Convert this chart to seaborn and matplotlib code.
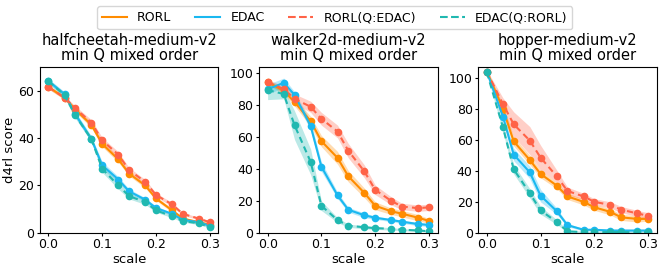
import numpy as np
import pandas as pd
import matplotlib
matplotlib.use("Agg")
import matplotlib.pyplot as plt
from matplotlib.lines import Line2D
import seaborn as sns

# ── Data ──────────────────────────────────────────────────────────────────────

scales = [0.0, 0.03, 0.05, 0.08, 0.1, 0.13, 0.15, 0.18, 0.2, 0.23, 0.25, 0.28, 0.3]
methods = ["RORL", "EDAC", "RORL(Q:EDAC)", "EDAC(Q:RORL)"]
envs = ["halfcheetah-medium-v2", "walker2d-medium-v2", "hopper-medium-v2"]

hc_rorl      = [61.5, 57, 52, 45.5, 37.5, 31, 25, 20, 14.5, 9.5, 6, 4.5, 3.5]
hc_edac      = [64, 58.5, 50, 39.5, 28.5, 22.5, 17.5, 14, 10.5, 8, 5.5, 4.5, 3]
hc_rorl_qe   = [61.5, 57, 52.5, 46.5, 39, 33, 26.5, 21.5, 16, 12, 8, 6, 4.5]
hc_edac_qr   = [64, 58, 49.5, 39.5, 27, 20, 15.5, 13, 9.5, 7, 5, 4, 2.5]

wk_rorl      = [94.5, 89, 82, 70, 57.5, 47, 35.5, 25, 17, 13.5, 12, 9.5, 7.5]
wk_edac      = [90, 94, 86.5, 67, 41.5, 23.5, 14.5, 11, 9.5, 8, 7, 5.5, 5]
wk_rorl_qe   = [94.5, 90, 84, 79, 71.5, 63.5, 51.5, 38.5, 27, 20, 16.5, 15.5, 16]
wk_edac_qr   = [89.5, 87, 67.5, 44.5, 17, 8, 4.5, 3.5, 3, 2.5, 2, 1.5, 1]

hp_rorl      = [104, 80, 59, 47, 38, 30.5, 23.5, 20, 16.5, 13.5, 10, 9, 9]
hp_edac      = [104, 75, 50.5, 39, 24, 14, 5, 2, 2, 1.5, 1.5, 1.5, 1.5]
hp_rorl_qe   = [104, 83, 70, 59.5, 48.5, 36.5, 27, 23.5, 20, 18, 15, 12.5, 11]
hp_edac_qr   = [103.5, 68, 41, 25.5, 14.5, 7, 1, 0.5, 0.5, 0.5, 0.5, 0.5, 0.5]

# half-width of the shaded bands
hc_rorl_sd    = [0.8, 0.8, 1.0, 1.2, 1.2, 1.2, 1.0, 1.0, 0.8, 0.8, 0.6, 0.5, 0.5]
hc_edac_sd    = [1.0, 1.0, 1.2, 1.2, 1.5, 1.2, 1.0, 0.8, 0.8, 0.6, 0.5, 0.5, 0.5]
hc_rorl_qe_sd = [0.8, 0.8, 1.0, 1.2, 1.2, 1.2, 1.0, 1.0, 0.8, 0.8, 0.6, 0.5, 0.5]
hc_edac_qr_sd = [1.0, 1.0, 1.2, 1.2, 1.5, 1.5, 1.2, 1.0, 0.8, 0.6, 0.5, 0.5, 0.5]

wk_rorl_sd    = [1.5, 2.0, 2.5, 3.0, 3.5, 4.0, 3.5, 3.0, 2.5, 2.0, 2.0, 2.0, 1.5]
wk_edac_sd    = [3.0, 3.0, 2.0, 3.0, 3.0, 2.0, 1.5, 1.5, 1.0, 1.0, 1.0, 1.0, 1.0]
wk_rorl_qe_sd = [1.5, 2.0, 3.0, 3.5, 4.0, 4.0, 4.5, 4.0, 3.0, 2.5, 2.0, 2.0, 2.0]
wk_edac_qr_sd = [6.0, 3.0, 9.0, 8.0, 3.0, 1.5, 1.0, 1.0, 0.8, 0.8, 0.6, 0.6, 0.5]

hp_rorl_sd    = [1.0, 3.0, 3.0, 3.0, 2.5, 2.0, 2.0, 2.0, 2.0, 2.0, 2.0, 2.0, 1.5]
hp_edac_sd    = [1.0, 3.0, 4.0, 4.0, 4.0, 2.0, 1.0, 0.8, 0.8, 0.8, 0.8, 0.8, 0.8]
hp_rorl_qe_sd = [1.0, 4.0, 8.0, 9.0, 8.0, 4.0, 2.5, 2.0, 2.0, 2.0, 2.0, 2.0, 2.0]
hp_edac_qr_sd = [1.0, 3.0, 3.0, 3.0, 2.5, 1.5, 0.8, 0.5, 0.5, 0.5, 0.5, 0.5, 0.5]

means = {
    envs[0]: [hc_rorl, hc_edac, hc_rorl_qe, hc_edac_qr],
    envs[1]: [wk_rorl, wk_edac, wk_rorl_qe, wk_edac_qr],
    envs[2]: [hp_rorl, hp_edac, hp_rorl_qe, hp_edac_qr],
}
stds = {
    envs[0]: [hc_rorl_sd, hc_edac_sd, hc_rorl_qe_sd, hc_edac_qr_sd],
    envs[1]: [wk_rorl_sd, wk_edac_sd, wk_rorl_qe_sd, wk_edac_qr_sd],
    envs[2]: [hp_rorl_sd, hp_edac_sd, hp_rorl_qe_sd, hp_edac_qr_sd],
}
ylims = {envs[0]: 70, envs[1]: 104, envs[2]: 107}

# ── Style ─────────────────────────────────────────────────────────────────────

palette = {
    "RORL": "#ff8c00",
    "EDAC": "#1ab8f0",
    "RORL(Q:EDAC)": "#ff6347",
    "EDAC(Q:RORL)": "#20b8b0",
}
dashes = {"RORL": "", "EDAC": "", "RORL(Q:EDAC)": (3, 2), "EDAC(Q:RORL)": (3, 2)}

rows = []
for env in envs:
    for m, vals, sds in zip(methods, means[env], stds[env]):
        for s, v, sd in zip(scales, vals, sds):
            rows.append({"env": env, "method": m, "scale": s, "score": v, "sd": sd})
df = pd.DataFrame(rows)

fig, axes = plt.subplots(1, 3, figsize=(6.64, 2.73), dpi=100)

for ax, env in zip(axes, envs):
    sub = df[df["env"] == env]
    for m in methods:
        d = sub[sub["method"] == m]
        ax.fill_between(d["scale"], d["score"] - d["sd"], d["score"] + d["sd"],
                        color=palette[m], alpha=0.3, linewidth=0)
    sns.lineplot(data=sub, x="scale", y="score", hue="method", style="method",
                 hue_order=methods, style_order=methods, palette=palette,
                 dashes=dashes, markers={m: "o" for m in methods},
                 markersize=5.5, markeredgewidth=0, linewidth=1.5,
                 errorbar=None, legend=False, ax=ax)
    ax.set_title(f"{env}\nmin Q mixed order", fontsize=10.5, linespacing=1.0, pad=5)
    ax.set_xlabel("scale", fontsize=9.5, labelpad=1)
    ax.set_ylabel("")
    ax.set_ylim(0, ylims[env])
    ax.set_xlim(-0.016, 0.316)
    ax.set_xticks([0.0, 0.1, 0.2, 0.3])
    ax.tick_params(labelsize=9, length=2.5, pad=1.5)

axes[0].set_ylabel("d4rl score", fontsize=9.5, labelpad=2)
axes[0].set_yticks([0, 20, 40, 60])
axes[1].set_yticks([0, 20, 40, 60, 80, 100])
axes[2].set_yticks([0, 20, 40, 60, 80, 100])

handles = [Line2D([0], [0], color=palette[m], lw=1.5,
                  linestyle="--" if "Q:" in m else "-") for m in methods]
fig.legend(handles, methods, loc="upper center", ncol=4, fontsize=9,
           bbox_to_anchor=(0.504, 1.0), frameon=True, handlelength=2.0,
           columnspacing=1.9)

fig.subplots_adjust(left=0.06, right=0.989, bottom=0.147, top=0.755, wspace=0.228)
fig.savefig("out.png", dpi=100)
